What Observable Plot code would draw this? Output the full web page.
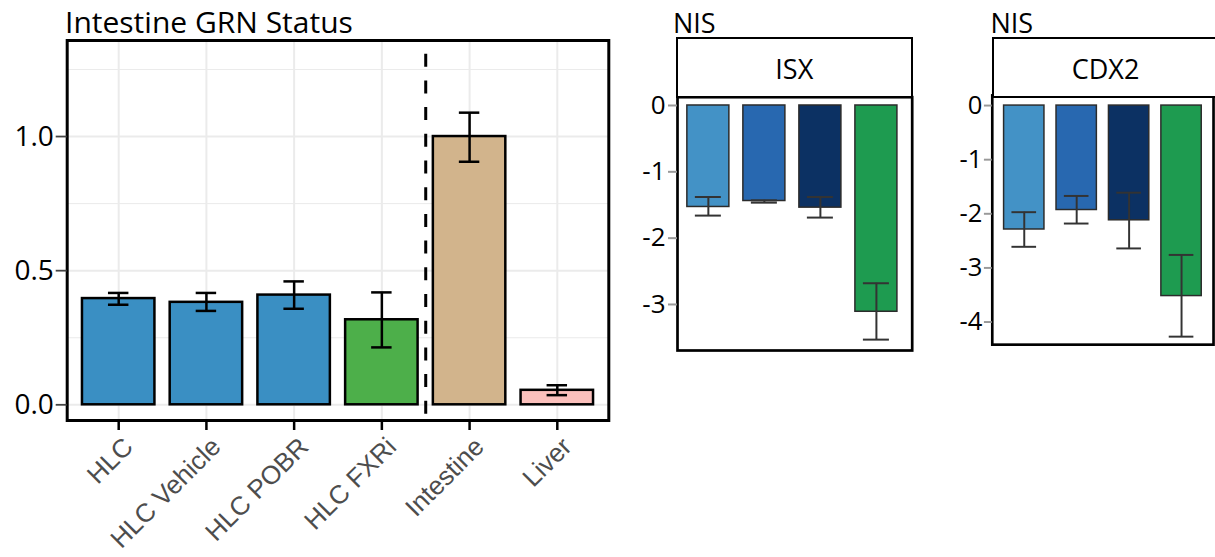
<!DOCTYPE html>
<html>
<head>
<meta charset="utf-8">
<script src="https://cdn.jsdelivr.net/npm/d3@7"></script>
<script src="https://cdn.jsdelivr.net/npm/@observablehq/plot@0.6"></script>
<style>
  html, body { margin: 0; padding: 0; background: #fff; }
  #root { position: relative; width: 1215px; height: 557px; overflow: hidden; font-family: "Open Sans", sans-serif; background: #fff; }
  .abs { position: absolute; }
  .ttl { white-space: nowrap; color: #000; }
  .strip { box-sizing: border-box; border: 2.7px solid #000; background: #fff; }
  .striptxt { font-size: 27px; line-height: 27px; text-align: center; white-space: nowrap; color: #000; }
</style>
</head>
<body>
<div id="root">
  <div class="abs ttl" style="left:65px; top:6.5px; font-size:30px; line-height:30px;">Intestine GRN Status</div>
  <div class="abs ttl" style="left:673px; top:9.3px; font-size:27px; line-height:27px;">NIS</div>
  <div class="abs ttl" style="left:990.5px; top:9.3px; font-size:27px; line-height:27px;">NIS</div>
  <div id="left" class="abs" style="left:0; top:0;"></div>
  <div id="isx" class="abs" style="left:610px; top:0;"></div>
  <div id="cdx2" class="abs" style="left:920px; top:0;"></div>
  <div class="abs strip" style="left:675.6px; top:36.6px; width:237.4px; height:61.4px;"></div>
  <div class="abs striptxt" style="left:675.6px; top:55px; width:237.4px;">ISX</div>
  <div class="abs strip" style="left:991.6px; top:37.3px; width:228px; height:60.5px;"></div>
  <div class="abs striptxt" style="left:991.6px; top:55px; width:228px;">CDX2</div>
</div>
<script>
// ---------- Data ----------
const grnCategories = ["HLC", "HLC Vehicle", "HLC POBR", "HLC FXRi", "Intestine", "Liver"];
const grnValues = [0.396, 0.382, 0.409, 0.317, 1.0, 0.054];
const grnLow    = [0.373, 0.350, 0.358, 0.214, 0.906, 0.036];
const grnHigh   = [0.417, 0.417, 0.460, 0.419, 1.089, 0.073];
const grnColors = ["#3a8fc3", "#3a8fc3", "#3a8fc3", "#4daf4a", "#d2b48c", "#fbc0bc"];
const grnTicks = [0, 0.5, 1.0];
const grnMinorTicks = [0.25, 0.75, 1.25];

const nisGroups = ["HLC", "HLC Vehicle", "HLC POBR", "HLC FXRi"];
const nisColors = ["#4392c6", "#2868b0", "#0c3163", "#1e9b50"];

const isxValues = [-1.53, -1.44, -1.54, -3.11];
const isxLow    = [-1.66, -1.465, -1.69, -3.53];
const isxHigh   = [-1.38, -1.43, -1.38, -2.68];
const isxTicks  = [0, -1, -2, -3];

const cdx2Values = [-2.29, -1.93, -2.12, -3.52];
const cdx2Low    = [-2.61, -2.18, -2.64, -4.27];
const cdx2High   = [-1.97, -1.67, -1.61, -2.76];
const cdx2Ticks  = [0, -1, -2, -3, -4];

// ---------- Tables ----------
const grnTable = grnCategories.map((c, i) => ({cat: c, value: grnValues[i], lo: grnLow[i], hi: grnHigh[i], color: grnColors[i]}));
const mkNis = (vals, lo, hi) => nisGroups.map((g, i) => ({cat: g, value: vals[i], lo: lo[i], hi: hi[i], color: nisColors[i]}));
const isxTable = mkNis(isxValues, isxLow, isxHigh);
const cdx2Table = mkNis(cdx2Values, cdx2Low, cdx2High);

// ---------- Left panel ----------
function leftPlot(dividerDx) {
  return Plot.plot({
    width: 615, height: 557,
    marginLeft: 66.7, marginRight: 6.7, marginTop: 40, marginBottom: 137,
    style: {fontFamily: "'Open Sans', sans-serif", background: "transparent", overflow: "visible"},
    x: {type: "band", domain: grnCategories, padding: 0.174, round: false, label: null},
    y: {domain: [-0.0585, 1.358], label: null},
    color: {type: "identity"},
    marks: [
      Plot.gridY(grnMinorTicks, {stroke: "#ebebeb", strokeOpacity: 1, strokeWidth: 1}),
      Plot.gridY(grnTicks, {stroke: "#ebebeb", strokeOpacity: 1, strokeWidth: 2}),
      Plot.gridX({stroke: "#ebebeb", strokeOpacity: 1, strokeWidth: 2}),
      Plot.barY(grnTable, {x: "cat", y: "value", fill: "color", stroke: "#000", strokeWidth: 2.5}),
      Plot.ruleX(grnTable, {x: "cat", y1: "lo", y2: "hi", stroke: "#000", strokeWidth: 2.5}),
      Plot.tickY(grnTable, {x: "cat", y: "lo", stroke: "#000", strokeWidth: 2.5, insetLeft: 26, insetRight: 26}),
      Plot.tickY(grnTable, {x: "cat", y: "hi", stroke: "#000", strokeWidth: 2.5, insetLeft: 26, insetRight: 26}),
      Plot.ruleX([grnCategories[3]], {x: d => d, dx: dividerDx, stroke: "#000", strokeWidth: 3, strokeDasharray: "13,13.7", strokeDashoffset: 13}),
      Plot.frame({stroke: "#000", strokeWidth: 3}),
      Plot.axisY(grnTicks, {tickSize: 11, stroke: "#444", strokeWidth: 1.8, tickFormat: () => ""}),
      Plot.axisY(grnTicks, {tickSize: 0, tickPadding: 13.4, tickFormat: d3.format(".1f"), fontSize: 28, fill: "#000"}),
      Plot.axisX({tickSize: 10, stroke: "#000", strokeWidth: 2.5, tickFormat: () => ""}),
      Plot.axisX({tickSize: 0, tickRotate: -45, tickPadding: 14, dx: 10, dy: 8,
                  fontSize: 26, fill: "#4d4d4d", fontFamily: "'Liberation Sans', Arial, sans-serif"})
    ]
  });
}
const first = leftPlot(0);
const xs = first.scale("x");
const left = leftPlot(xs.step / 2);
document.getElementById("left").append(left);

// ---------- NIS panels ----------
function nisPlot(table, ticks, opts) {
  return Plot.plot({
    width: opts.width, height: 360,
    marginLeft: opts.marginLeft, marginRight: opts.marginRight, marginTop: opts.marginTop, marginBottom: 10,
    style: {fontFamily: "'Open Sans', sans-serif", background: "transparent", overflow: "visible"},
    x: {type: "band", domain: nisGroups, paddingInner: opts.paddingInner, paddingOuter: opts.paddingOuter, align: opts.align, round: false, axis: null},
    y: {domain: opts.domain, label: null},
    color: {type: "identity"},
    marks: [
      Plot.barY(table, {x: "cat", y: "value", fill: "color", stroke: "#2b2b2b", strokeWidth: 1.5}),
      Plot.ruleX(table, {x: "cat", y1: "lo", y2: "hi", stroke: "#333", strokeWidth: 2}),
      Plot.tickY(table, {x: "cat", y: "lo", stroke: "#333", strokeWidth: 2, insetLeft: 8, insetRight: 8}),
      Plot.tickY(table, {x: "cat", y: "hi", stroke: "#333", strokeWidth: 2, insetLeft: 8, insetRight: 8}),
      Plot.frame({stroke: "#000", strokeWidth: 2.7}),
      Plot.axisY(ticks, {tickSize: opts.tickSize, stroke: "#999", strokeWidth: 2, tickFormat: () => ""}),
      Plot.axisY(ticks, {tickSize: 0, tickPadding: opts.tickPadding, tickFormat: d => String(d), fontSize: 26, fill: "#000"})
    ]
  });
}
document.getElementById("isx").append(nisPlot(isxTable, isxTicks, {
  width: 305, marginLeft: 67, marginRight: 3.3, marginTop: 96.7, tickSize: 9, tickPadding: 12,
  paddingInner: 0.25, paddingOuter: 0.22, align: 0.4, domain: [-3.694, 0.125]
}));
document.getElementById("cdx2").append(nisPlot(cdx2Table, cdx2Ticks, {
  width: 300, marginLeft: 73, marginRight: 2, marginTop: 96.5, tickSize: 8, tickPadding: 10,
  paddingInner: 0.23, paddingOuter: 0.225, align: 0.5, domain: [-4.418, 0.188]
}));
</script>
</body>
</html>
